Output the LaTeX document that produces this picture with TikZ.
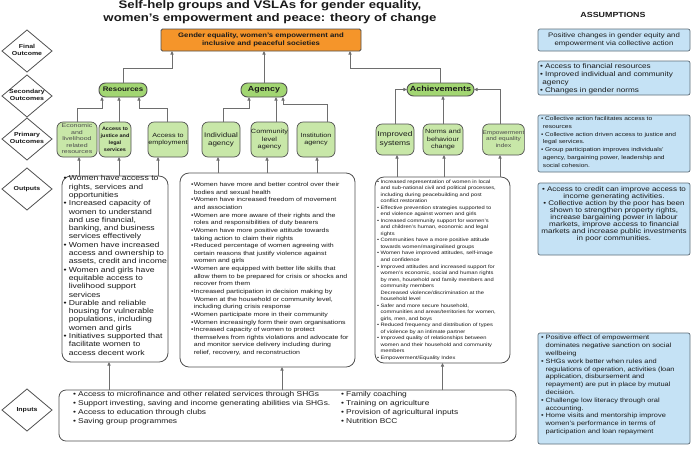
\documentclass[tikz,border=0pt]{standalone}
\usepackage{fontspec}
\setmainfont{Liberation Sans}
\usepackage{graphicx}
\usetikzlibrary{shapes.geometric,arrows.meta}
\definecolor{orng}{HTML}{F5952A}
\definecolor{pillg}{HTML}{A2D672}
\definecolor{primg}{HTML}{C8E7A8}
\definecolor{asb}{HTML}{C5E2F5}
\definecolor{bordc}{HTML}{505050}
\definecolor{arrc}{HTML}{6E6E6E}
\definecolor{abord}{HTML}{5F6F7A}
\definecolor{txtc}{HTML}{1A1A1A}
\newcommand\SXf{1.2}
\newcommand\TxL[2][\SXf]{\scalebox{#1}[1]{\begin{tabular}{@{}l@{}}#2\end{tabular}}}
\newcommand\TxC[2][\SXf]{\scalebox{#1}[1]{\begin{tabular}{@{}c@{}}#2\end{tabular}}}
\newcommand\Bu{\makebox[0.62em][l]{•}}
\newcommand\Cn{\hspace*{0.62em}}
\newcommand\Bs{\makebox[0.4em][l]{•}}
\newcommand\Cs{\hspace*{0.4em}}
\newcommand\Ca{\hspace*{0.3em}}
\begin{document}
\begin{tikzpicture}[x=1pt,y=-1pt,
  every node/.style={inner sep=0pt, outer sep=0pt},
  dia/.style={diamond, draw=bordc, line width=0.8pt, aspect=1.19, minimum width=50pt, minimum height=42pt, fill=white},
  dlab/.style={font=\bfseries\fontsize{5.8}{6.9}\selectfont, text=txtc},
  pill/.style={draw=bordc, line width=0.9pt, fill=pillg, rounded corners=6.5pt, text=txtc},
  prim/.style={draw=bordc, line width=0.7pt, fill=primg, rounded corners=6pt, text=txtc},
  obox/.style={draw=bordc, line width=0.8pt, rounded corners=9pt, fill=white},
  abox/.style={draw=abord, line width=0.7pt, fill=asb, rounded corners=2pt, text=txtc},
  txt/.style={anchor=north west, text=txtc},
  arr/.style={draw=arrc, line width=0.75pt, -{Triangle[length=3.6pt,width=3.2pt]}},
]
\useasboundingbox (0,0) rectangle (692,448);
\fill[white] (0,0) rectangle (692,448);

% title
\node[font=\bfseries\fontsize{11}{13}\selectfont, text=txtc] (title) at (270,12.8)
  {\TxC{Self-help groups and VSLAs for gender equality,\\women's empowerment and peace: theory of change}};
\node[font=\bfseries\fontsize{7.4}{8.5}\selectfont, text=txtc] (asst) at (613,16) {\TxC{ASSUMPTIONS}};

% diamonds
\node[dia] (d1) at (27,51) {};
\node[dia] (d2) at (27,96) {};
\node[dia] (d3) at (27,139) {};
\node[dia] (d4) at (27,189) {};
\node[dia] (d5) at (27,410) {};
\node[dlab] (d1t) at (d1) {\TxC{Final\\Outcome}};
\node[dlab] (d2t) at (d2) {\TxC{Secondary\\Outcomes}};
\node[dlab] (d3t) at (d3) {\TxC{Primary\\Outcomes}};
\node[dlab] (d4t) at (d4) {\TxC{Outputs}};
\node[dlab] (d5t) at (d5) {\TxC{Inputs}};

% final outcome
\node[draw=bordc, line width=0.8pt, fill=orng, rounded corners=1.5pt, minimum width=200pt, minimum height=22pt,
  font=\bfseries\fontsize{6.45}{7.5}\selectfont, text=txtc] (fin) at (261,40)
  {\TxC{Gender equality, women's empowerment and\\inclusive and peaceful societies}};

% secondary outcomes
\node[pill, minimum width=48pt, minimum height=14pt, font=\bfseries\fontsize{6.6}{8}\selectfont] (res) at (123,90) {\TxC{Resources}};
\node[pill, minimum width=46pt, minimum height=14pt, font=\bfseries\fontsize{7.4}{8}\selectfont] (agy) at (264,90) {\TxC{Agency}};
\node[pill, minimum width=67pt, minimum height=13pt, font=\bfseries\fontsize{7.5}{8}\selectfont] (ach) at (440.5,89.5) {\TxC{Achievements}};

% primary outcomes
\node[prim, minimum width=40pt, minimum height=35pt, font=\fontsize{5.4}{6.4}\selectfont, text=black!70] (p1) at (77,139.5)
  {\TxC[1.3]{Economic\\and\\livelihood\\related\\resources}};
\node[prim, minimum width=32pt, minimum height=35pt, font=\bfseries\fontsize{5}{7.2}\selectfont] (p2) at (115,139.5)
  {\TxC[1.1]{Access to\\justice and\\legal\\services}};
\node[prim, minimum width=40pt, minimum height=35pt, font=\fontsize{6}{7.4}\selectfont] (p3) at (168,139.5)
  {\TxC{Access to\\employment}};
\node[prim, minimum width=38pt, minimum height=35pt, font=\fontsize{6.7}{8.3}\selectfont] (p4) at (221,139.5)
  {\TxC{Individual\\agency}};
\node[prim, minimum width=37pt, minimum height=35pt, font=\fontsize{6.1}{7.8}\selectfont] (p5) at (269.5,139.5)
  {\TxC{Community\\level\\agency}};
\node[prim, minimum width=38pt, minimum height=35pt, font=\fontsize{6}{7.7}\selectfont] (p6) at (316,139.5)
  {\TxC{Institution\\agency}};
\node[prim, minimum width=38pt, minimum height=31pt, font=\fontsize{7}{9}\selectfont] (p7) at (395,139.5)
  {\TxC{Improved\\systems}};
\node[prim, minimum width=40pt, minimum height=31pt, font=\fontsize{6.1}{7.8}\selectfont] (p8) at (443,139.5)
  {\TxC{Norms and\\behaviour\\change}};
\node[prim, minimum width=37pt, minimum height=31pt, font=\fontsize{5.4}{6.3}\selectfont, text=black!70] (p9) at (503.5,139.5)
  {\TxC{Empowerment\\and equality\\index}};

% outputs
\node[obox, minimum width=106pt, minimum height=186pt] (o1) at (115,269) {};
\node[obox, minimum width=175pt, minimum height=194pt] (o2) at (267.5,270) {};
\node[obox, minimum width=135pt, minimum height=186pt] (o3) at (442.5,270) {};

\node[txt, font=\fontsize{7.2}{8.3}\selectfont] (o1t) at (63.5,175) {\TxL{%
\Bu Women have access to\\
\Cn rights, services and\\
\Cn opportunities\\
\Bu Increased capacity of\\
\Cn women to understand\\
\Cn and use financial,\\
\Cn banking, and business\\
\Cn services effectively\\
\Bu Women have increased\\
\Cn access and ownership to\\
\Cn assets, credit and income\\
\Bu Women and girls have\\
\Cn equitable access to\\
\Cn livelihood support\\
\Cn services\\
\Bu Durable and reliable\\
\Cn housing for vulnerable\\
\Cn populations, including\\
\Cn women and girls\\
\Bu Initiatives supported that\\
\Cn facilitate women to\\
\Cn access decent work}};

\node[txt, font=\fontsize{5.8}{7.64}\selectfont] (o2t) at (191,181.2) {\TxL{%
\Bs Women have more and better control over their\\
\Cs bodies and sexual health\\
\Bs Women have increased freedom of movement\\
\Cs and association\\
\Bs Women are more aware of their rights and the\\
\Cs roles and responsibilities of duty bearers\\
\Bs Women have more positive attitude towards\\
\Cs taking action to claim their rights\\
\Bs Reduced percentage of women agreeing with\\
\Cs certain reasons that justify violence against\\
\Cs women and girls\\
\Bs Women are equipped with better life skills that\\
\Cs allow them to be prepared for crisis or shocks and\\
\Cs recover from them\\
\Bs Increased participation in decision making by\\
\Cs Women at the household or community level,\\
\Cs including during crisis response\\
\Bs Women participate more in their community\\
\Bs Women increasingly form their own organisations\\
\Bs Increased capacity of women to protect\\
\Cs themselves from rights violations and advocate for\\
\Cs and monitor service delivery including during\\
\Cs relief, recovery, and reconstruction}};

\node[txt, font=\fontsize{4.8}{6.52}\selectfont] (o3t) at (377,178.7) {\TxL{%
\Bu Increased representation of women in local\\
\Cn and sub-national civil and political processes,\\
\Cn including during peacebuilding and post\\
\Cn conflict restoration\\
\Bu Effective prevention strategies supported to\\
\Cn end violence against women and girls\\
\Bu Increased community support for women's\\
\Cn and children's human, economic and legal\\
\Cn rights\\
\Bu Communities have a more positive attitude\\
\Cn towards women/marginalised groups\\
\Bu Women have improved attitudes, self-image\\
\Cn and confidence\\
\Bu Improved attitudes and increased support for\\
\Cn women's economic, social and human rights\\
\Cn by men, household and family members and\\
\Cn community members\\
\Cn Decreased violence/discrimination at the\\
\Cn household level\\
\Bu Safer and more secure household,\\
\Cn communities and areas/territories for women,\\
\Cn girls, men, and boys\\
\Bu Reduced frequency and distribution of types\\
\Cn of violence by an intimate partner\\
\Bu Improved quality of relationships between\\
\Cn women and their household and community\\
\Cn members\\
\Bu Empowerment/Equality Index}};

% inputs
\node[obox, rounded corners=7pt, minimum width=457pt, minimum height=51pt] (inp) at (287.5,415.5) {};
\node[txt, font=\fontsize{7}{9.3}\selectfont] (inl) at (73,389.5) {\TxL{%
\Bu Access to microfinance and other related services through SHGs\\
\Bu Support investing, saving and income generating abilities via SHGs.\\
\Bu Access to education through clubs\\
\Bu Saving group programmes}};
\node[txt, font=\fontsize{7}{9.3}\selectfont] (inr) at (341,389.5) {\TxL{%
\Bu Family coaching\\
\Bu Training on agriculture\\
\Bu Provision of agricultural inputs\\
\Bu Nutrition BCC}};

% assumptions
\node[abox, minimum width=152pt, minimum height=22pt, font=\fontsize{6.5}{8.3}\selectfont] (a1) at (614,40)
  {\TxC{Positive changes in gender equity and\\empowerment via collective action}};
\node[abox, minimum width=152pt, minimum height=34pt] (a2) at (614,78) {};
\node[abox, minimum width=152pt, minimum height=57pt] (a3) at (614,143.5) {};
\node[abox, minimum width=152pt, minimum height=72pt] (a4) at (614,219) {};
\node[abox, minimum width=152pt, minimum height=111pt] (a5) at (614,388.5) {};

\node[txt, font=\fontsize{6.8}{7.9}\selectfont] (a2t) at (540,63.2) {\TxL{%
\Bu Access to financial resources\\
\Bu Improved individual and community\\
\Ca agency\\
\Bu Changes in gender norms}};
\node[txt, font=\fontsize{5.5}{7.8}\selectfont] (a3t) at (541,115) {\TxL{%
\Bu Collective action facilitates access to\\
\Ca resources\\
\Bu Collective action driven access to justice and\\
\Ca legal services.\\
\Bu Group participation improves individuals'\\
\Ca agency, bargaining power, leadership and\\
\Ca social cohesion.}};
\node[font=\fontsize{6.7}{7.1}\selectfont, text=txtc] (a4t) at (614,214.5) {\TxC{%
\Bu Access to credit can improve access to\\
income generating activities.\\
\Bu Collective action by the poor has been\\
shown to strengthen property rights,\\
increase bargaining power in labour\\
markets, improve access to financial\\
markets and increase public investments\\
in poor communities.}};
\node[txt, font=\fontsize{6.2}{7.8}\selectfont] (a5t) at (541,334.4) {\TxL{%
\Bu Positive effect of empowerment\\
\Cn dominates negative sanction on social\\
\Cn wellbeing\\
\Bu SHGs work better when rules and\\
\Cn regulations of operation, activities (loan\\
\Cn application, disbursement and\\
\Cn repayment) are put in place by mutual\\
\Cn decision.\\
\Bu Challenge low literacy through oral\\
\Cn accounting.\\
\Bu Home visits and mentorship improve\\
\Cn women's performance in terms of\\
\Cn participation and loan repayment}};

% connectors: secondary -> final
\coordinate (f1) at ([xshift=11pt]fin.south west);
\coordinate (f2) at ([xshift=-11pt]fin.south east);
\draw[arr] (res.north) -- ++(0,-15) -| (f1);
\draw[arr] (agy.north) -- (agy.north |- fin.south);
\draw[arr] (ach.north) -- ++(0,-15) -| (f2);

% primary -> secondary
\coordinate (r1) at ([xshift=-21pt]res.south);
\coordinate (r2) at ([xshift=-4pt]res.south);
\coordinate (r3) at ([xshift=16pt]res.south);
\draw[arr] (p1.north) -- ++(0,-14) -| (r1);
\draw[arr] (r2 |- p2.north) -- (r2);
\draw[arr] ([xshift=-1pt]p3.north) -- ++(0,-14) -| (r3);
\coordinate (g1) at ([xshift=-15pt]agy.south);
\coordinate (g2) at ([xshift=12pt]agy.south);
\coordinate (g3) at ([xshift=19pt]agy.south);
\draw[arr] ([xshift=2pt]p4.north) -- ++(0,-14) -| (g1);
\draw[arr] (g2 |- p5.north) -- (g2);
\draw[arr] ([xshift=11pt]p6.north) -- ++(0,-18) -| (g3);
\draw[arr] (p7.north) |- (ach.west);
\draw[arr] (p8.north) -- (p8.north |- ach.south);
\draw[arr] ([xshift=-3pt]p9.north) |- (ach.east);

% outputs -> primary
\coordinate (u1) at ([xshift=2pt]p1.south);
\coordinate (u2) at ([xshift=4pt]p2.south);
\coordinate (u3) at ([xshift=-10pt]p3.south);
\coordinate (u4) at ([xshift=-3pt]p4.south);
\coordinate (u5) at ([xshift=-2.5pt]p5.south);
\coordinate (u6) at ([xshift=1pt]p6.south);
\coordinate (u7) at ([xshift=2pt]p7.south);
\coordinate (u8) at ([xshift=1pt]p8.south);
\coordinate (u9) at ([xshift=-3.5pt]p9.south);
\draw[arr] (u1 |- o1.north) -- (u1);
\draw[arr] (u2 |- o1.north) -- (u2);
\draw[arr] (u3 |- o1.north) -- (u3);
\draw[arr] (u4 |- o2.north) -- (u4);
\draw[arr] (u5 |- o2.north) -- (u5);
\draw[arr] (u6 |- o2.north) -- (u6);
\draw[arr] (u7 |- o3.north) -- (u7);
\draw[arr] (u8 |- o3.north) -- (u8);
\draw[arr] (u9 |- o3.north) -- (u9);

% inputs -> outputs
\coordinate (v1) at ([xshift=-6pt]o1.south);
\coordinate (v2) at ([xshift=14.5pt]o2.south);
\coordinate (v3) at (o3.south);
\draw[arr] (v1 |- inp.north) -- (v1);
\draw[arr] (v2 |- inp.north) -- (v2);
\draw[arr] (v3 |- inp.north) -- (v3);
\end{tikzpicture}
\end{document}
